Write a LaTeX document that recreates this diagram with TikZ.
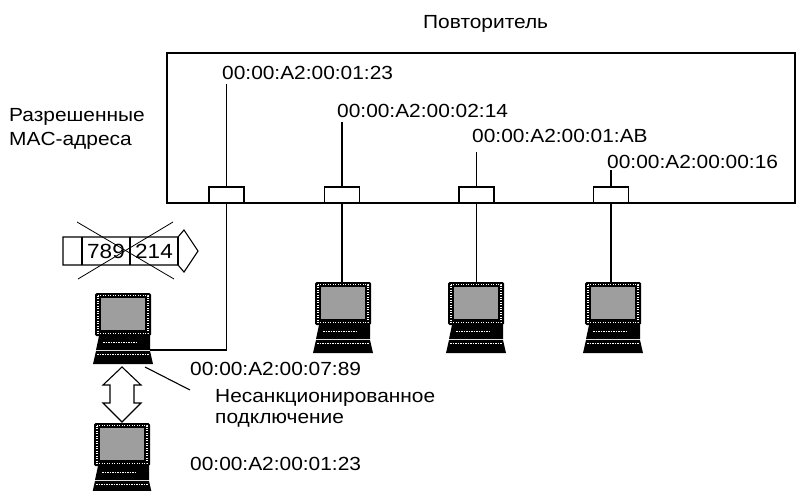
\documentclass[tikz,border=0pt]{standalone}
\usepackage{fontspec}
\setmainfont{Liberation Sans}[FakeStretch=1.1]
\begin{document}
\begin{tikzpicture}[x=1pt,y=-1pt,
  every node/.style={font=\fontsize{19}{22}\selectfont, inner sep=0pt},
  lbl/.style={anchor=base west},
  line/.style={line width=1.1pt},
  port/.style={draw, fill=white, line width=1.1pt, minimum width=35pt, minimum height=16pt},
  pc/.pic={
    % monitor
    \fill[black, rounded corners=1.5pt] (-28,0) rectangle (28,43);
    \fill[black!38] (-22,5) rectangle (22,37);
    \draw[white, dash pattern=on 1pt off 1.5pt, line width=1.1pt] (-25,2.6) rectangle (25,40.4);
    % system unit
    \fill[black] (-24,43) -- (27,43) -- (27,57) -- (-27,57) -- cycle;
    \draw[white, dash pattern=on 1.5pt off 1pt, line width=1pt] (-20,49.5) -- (14,49.5);
    % keyboard
    \fill[black] (-27,58) -- (27,58) -- (30,71) -- (-30,71) -- cycle;
    \draw[white, dash pattern=on 1.5pt off 1pt, line width=0.9pt] (-26,61) -- (26,61);
  }
]
\useasboundingbox (0,0) rectangle (797,490);

% repeater box
\node[lbl] (title) at (423,28) {Повторитель};
\draw[line] (167,53) rectangle (795,203);

% allowed addresses
\node[lbl] (allow1) at (9,121) {Разрешенные};
\node[lbl] (allow2) at (9,145) {MAC-адреса};

\node[lbl] (m1) at (222,79) {00:00:A2:00:01:23};
\node[lbl] (m2) at (337,117) {00:00:A2:00:02:14};
\node[lbl] (m3) at (472,142) {00:00:A2:00:01:AB};
\node[lbl] (m4) at (607,168) {00:00:A2:00:00:16};

\coordinate (t1) at (226.5,84);
\coordinate (t2) at (342,122);
\coordinate (t3) at (476.5,152);
\coordinate (t4) at (611,170);

% ports
\node[port] (p1) at (226.5,195) {};
\node[port] (p2) at (342,195) {};
\node[port] (p3) at (476.5,195) {};
\node[port] (p4) at (611,195) {};

\draw[line] (p1.north) -- (t1);
\draw[line] (p2.north) -- (t2);
\draw[line] (p3.north) -- (t3);
\draw[line] (p4.north) -- (t4);

% computers
\pic at (343,282) {pc};
\pic at (476,282) {pc};
\pic at (613,282) {pc};
\pic at (123,293) {pc};
\pic at (122,423) {pc};

\coordinate (c2) at (342,282);
\coordinate (c3) at (476.5,282);
\coordinate (c4) at (611,282);
\coordinate (bend) at (226.5,350);
\coordinate (c1) at (150,350);

\draw[line] (p2.south) -- (c2);
\draw[line] (p3.south) -- (c3);
\draw[line] (p4.south) -- (c4);
\draw[line] (p1.south) -- (bend) -- (c1);

% intruder addresses and note
\node[lbl] (m5) at (190,375) {00:00:A2:00:07:89};
\node[lbl] (n1) at (215,402) {Несанкционированное};
\node[lbl] (n2) at (215,423) {подключение};
\node[lbl] (m6) at (190,470) {00:00:A2:00:01:23};

\coordinate (lead1) at (145,367);
\coordinate (lead2) at (190,390);
\draw[line] (lead1) -- (lead2);

% double arrow between the two hosts
\draw[line, fill=white] (122,367) -- (141,385) -- (134,385) -- (134,403) -- (141,403)
  -- (122,422) -- (103,403) -- (110,403) -- (110,385) -- (103,385) -- cycle;

% rejected frame
\draw[line, fill=white] (63,237) -- (178,237) -- (184,230) -- (198,251) -- (184,272)
  -- (178,265) -- (63,265) -- cycle;
\draw[line] (82,237) -- (82,265);
\draw[line] (130,237) -- (130,265);
\draw[line] (178,237) -- (178,265);
\node[font=\fontsize{20.5}{22}\selectfont] (f1) at (106,251) {789};
\node[font=\fontsize{20.5}{22}\selectfont] (f2) at (154,251) {214};
\draw[line width=0.8pt] (77,222) -- (174,279);
\draw[line width=0.8pt] (173,222) -- (78,279);
\end{tikzpicture}
\end{document}
